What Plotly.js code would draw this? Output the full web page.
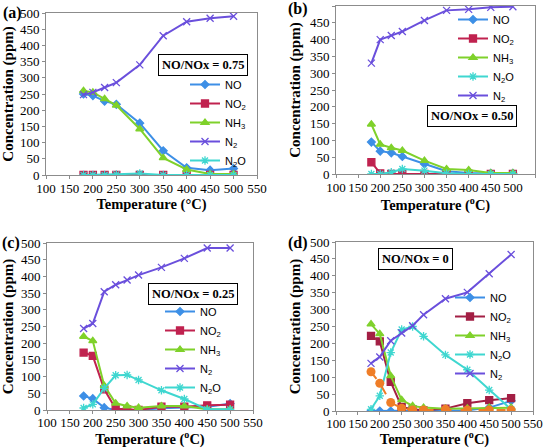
<!DOCTYPE html>
<html>
<head>
<meta charset="utf-8">
<script src="https://cdn.plot.ly/plotly-3.0.1.min.js"></script>
<style>html,body{margin:0;padding:0;background:#fff}#chart{width:544px;height:448px}</style>
</head>
<body>
<div id="chart"></div>
<script>
// ---- data ----
const tempA = [180, 200, 225, 250, 300, 350, 400, 450, 500];
const noA   = [250, 245, 228, 218, 160, 75, 22, 15, 20];
const no2A  = [0, 0, 0, 0, 0, 0, 0, 0, 0];
const nh3A  = [260, 255, 235, 215, 142, 53, 17, 3, 3];
const n2A   = [248, 255, 270, 285, 340, 430, 473, 484, 490];
const n2oA  = [0, 0, 0, 2, 5, 0, 0, 0, 0];

const tempB = [180, 200, 225, 250, 300, 350, 400, 450, 500];
const noB   = [95, 68, 63, 52, 30, 8, 3, 2, 2];
const no2B  = [35, 2, 0, 0, 0, 0, 0, 0, 0];
const nh3B  = [148, 88, 78, 70, 40, 15, 12, 3, 3];
const n2oB  = [0, 0, 5, 15, 10, 2, 0, 0, 0];
const n2B   = [330, 400, 412, 424, 457, 487, 490, 496, 498];

const tempC = [180, 200, 225, 250, 275, 300, 350, 400, 450, 500];
const noC   = [42, 34, 7, 0, 0, 0, 5, 8, 10, 19];
const no2C  = [172, 162, 62, 4, 2, 0, 10, 10, 14, 16];
const nh3C  = [220, 207, 73, 20, 12, 7, 12, 12, 2, 2];
const n2C   = [244, 259, 354, 375, 389, 404, 427, 454, 485, 485];
const n2oC  = [6, 17, 65, 104, 105, 90, 59, 33, 2, 2];

const tempD = [180, 200, 225, 250, 275, 300, 350, 400, 450, 500];
const noD   = [0, 0, 0, 0, 0, 0, 0, 2, 10, 30];
const no2D  = [222, 206, 86, 12, 5, 2, 7, 23, 32, 38];
const nh3D  = [257, 228, 104, 33, 15, 10, 7, 8, 10, 10];
const n2oD  = [5, 45, 173, 241, 250, 221, 166, 122, 62, 5];
const n2D   = [141, 160, 208, 231, 252, 285, 332, 351, 406, 463];
const extraD = [116, 82, 25, 8, 3, 3, 5, 3, 3, 3];

const labels = {NO: 'NO', NO2: 'NO<sub>2</sub>', NH3: 'NH<sub>3</sub>', N2: 'N<sub>2</sub>', N2O: 'N<sub>2</sub>O'};
const panelLabels = ['(a)', '(b)', '(c)', '(d)'];
const ratioLabels = ['NO/NOx = 0.75', 'NO/NOx = 0.50', 'NO/NOx = 0.25', 'NO/NOx = 0'];
const xTitles = ['Temperature (°C)', 'Temperature (<sup>o</sup>C)', 'Temperature (<sup>o</sup>C)', 'Temperature (<sup>o</sup>C)'];
const yTitle = 'Concentration (ppm)';

// ---- styles ----
const C = {NO: '#3d8fe6', NO2: '#c0224f', NO2d: '#a31f44', NH3: '#7fd12b', N2: '#6a4fdc', N2O: '#3fd7d0', OR: '#ef7d27'};
function tr(x, y, name, color, symbol, size, ax, leg, extra) {
  const t = {
    x: x, y: y, name: name, type: 'scatter', mode: 'lines+markers',
    xaxis: 'x' + (ax === 1 ? '' : ax), yaxis: 'y' + (ax === 1 ? '' : ax),
    legend: leg,
    line: {color: color, width: 2},
    marker: {symbol: symbol, size: size, color: color, line: {color: color, width: 1.3}}
  };
  return Object.assign(t, extra || {});
}
const traces = [
  tr(tempA, noA, labels.NO, C.NO, 'diamond', 6, 1, 'legend'),
  tr(tempA, no2A, labels.NO2, C.NO2, 'square', 7, 1, 'legend'),
  tr(tempA, nh3A, labels.NH3, C.NH3, 'triangle-up', 7, 1, 'legend'),
  tr(tempA, n2A, labels.N2, C.N2, 'x-thin', 7, 1, 'legend'),
  tr(tempA, n2oA, labels.N2O, C.N2O, 'asterisk', 7, 1, 'legend'),

  tr(tempB, noB, labels.NO, C.NO, 'diamond', 6, 2, 'legend2'),
  tr(tempB, no2B, labels.NO2, C.NO2, 'square', 7, 2, 'legend2'),
  tr(tempB, nh3B, labels.NH3, C.NH3, 'triangle-up', 7, 2, 'legend2'),
  tr(tempB, n2oB, labels.N2O, C.N2O, 'asterisk', 7, 2, 'legend2'),
  tr(tempB, n2B, labels.N2, C.N2, 'x-thin', 7, 2, 'legend2'),

  tr(tempC, noC, labels.NO, C.NO, 'diamond', 6, 3, 'legend3'),
  tr(tempC, no2C, labels.NO2, C.NO2, 'square', 7, 3, 'legend3'),
  tr(tempC, nh3C, labels.NH3, C.NH3, 'triangle-up', 7, 3, 'legend3'),
  tr(tempC, n2C, labels.N2, C.N2, 'x-thin', 7, 3, 'legend3'),
  tr(tempC, n2oC, labels.N2O, C.N2O, 'asterisk', 7, 3, 'legend3'),

  tr(tempD, noD, labels.NO, C.NO, 'diamond', 6, 4, 'legend4'),
  tr(tempD, no2D, labels.NO2, C.NO2d, 'square', 7, 4, 'legend4'),
  tr(tempD, nh3D, labels.NH3, C.NH3, 'triangle-up', 7, 4, 'legend4'),
  tr(tempD, n2oD, labels.N2O, C.N2O, 'asterisk', 7, 4, 'legend4'),
  tr(tempD, n2D, labels.N2, C.N2, 'x-thin', 7, 4, 'legend4'),
  tr(tempD, extraD, 'extra', C.OR, 'circle', 9, 4, 'legend4', {showlegend: false, line: {color: C.OR, width: 2, dash: 'dash'}, marker: {symbol: 'circle', size: 9, color: C.OR}})
];

// ---- layout ----
const W = 544, H = 448;
const boxes = [
  {x: [46, 257], y: [13, 175]},
  {x: [336, 535], y: [6, 174]},
  {x: [47, 253], y: [243, 410]},
  {x: [336, 533], y: [242, 411]}
];
const xStandoff = [2, 2, 5, 9];
const xLabelShift = [-2, -2, -3, -3];
const serif = '"Liberation Serif", "DejaVu Serif", serif';
const sans = '"Liberation Sans", Arial, sans-serif';
const layout = {
  width: W, height: H, margin: {l: 0, r: 0, t: 0, b: 0},
  font: {family: serif, color: '#000'},
  paper_bgcolor: '#fff', plot_bgcolor: '#fff', showlegend: true,
  annotations: [], shapes: []
};
boxes.forEach((b, i) => {
  const s = i === 0 ? '' : String(i + 1);
  layout['xaxis' + s] = {
    domain: [b.x[0] / W, b.x[1] / W], anchor: 'y' + s,
    range: [100, 550], dtick: 50, tick0: 100, tickangle: 0,
    showgrid: false, zeroline: false, showline: true, mirror: true,
    linecolor: '#8c8c8c', linewidth: 1, ticks: 'outside', ticklen: 3, tickcolor: '#8c8c8c',
    ticklabelstandoff: xLabelShift[i],
    tickfont: {family: serif, size: 13, color: '#000'},
    title: {text: '<b>' + xTitles[i] + '</b>', font: {family: serif, size: 14.5, color: '#000'}, standoff: xStandoff[i]},
    automargin: false, fixedrange: true
  };
  layout['yaxis' + s] = {
    domain: [1 - b.y[1] / H, 1 - b.y[0] / H], anchor: 'x' + s,
    range: [0, 500], dtick: 50, tick0: 0,
    showgrid: false, zeroline: false, showline: true, mirror: true,
    linecolor: '#8c8c8c', linewidth: 1, ticks: 'outside', ticklen: 3, tickcolor: '#8c8c8c',
    tickfont: {family: serif, size: 13, color: '#000'},
    title: {text: '<b>' + yTitle + '</b>', font: {family: serif, size: 15, color: '#000'}, standoff: 5},
    automargin: false, fixedrange: true
  };
});
const legendPos = [[185, 70], [453, 5], [160, 297], [450, 283]];
legendPos.forEach((p, i) => {
  const k = i === 0 ? 'legend' : 'legend' + (i + 1);
  layout[k] = {
    x: p[0] / W, y: 1 - p[1] / H, xanchor: 'left', yanchor: 'top',
    bgcolor: 'rgba(0,0,0,0)', borderwidth: 0,
    font: {family: sans, size: 11, color: '#000'}
  };
});
const panelPos = [[12, 13], [298, 9], [11, 243], [298, 243]];
panelPos.forEach((p, i) => {
  layout.annotations.push({
    text: '<b>' + panelLabels[i] + '</b>', xref: 'paper', yref: 'paper',
    x: p[0] / W, y: 1 - p[1] / H, xanchor: 'center', yanchor: 'middle', showarrow: false,
    font: {family: serif, size: 16, color: '#000'}
  });
});
const ratioPos = [[203, 65], [472, 116], [193, 294], [415, 259]];
ratioPos.forEach((p, i) => {
  layout.annotations.push({
    text: '<b>' + ratioLabels[i] + '</b>', xref: 'paper', yref: 'paper',
    x: p[0] / W, y: 1 - p[1] / H, xanchor: 'center', yanchor: 'middle', showarrow: false,
    font: {family: serif, size: 12.5, color: '#000'},
    bgcolor: '#fff', bordercolor: '#000', borderwidth: 1, borderpad: 3
  });
});

Plotly.newPlot('chart', traces, layout, {displayModeBar: false, staticPlot: true});
</script>
</body>
</html>
